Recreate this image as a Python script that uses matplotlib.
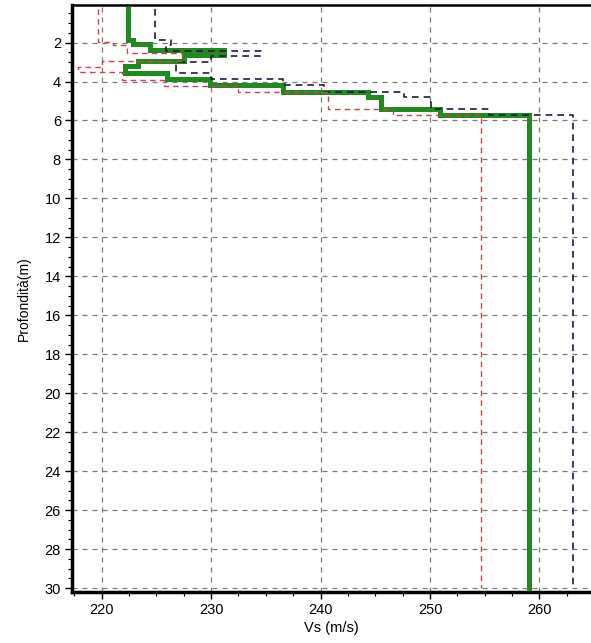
import numpy as np
import matplotlib
matplotlib.use("Agg")
import matplotlib.pyplot as plt
from matplotlib.ticker import MultipleLocator

plt.rcParams['font.family'] = ['Liberation Sans', 'DejaVu Sans']

max_depth = 30.0

# Mean profile (green)
mean_tops = [0.3, 1.88, 2.05, 2.38, 2.65, 2.94, 3.2, 3.55, 3.85, 4.17, 4.53, 4.78, 5.42, 5.72]
mean_vs = [222.4, 222.9, 224.4, 231.2, 227.5, 223.3, 222.1, 226.0, 229.9, 236.6, 244.3, 245.5, 250.9, 259.0]

# Upper profile (black dashed)
upper_tops = [0.3, 1.85, 2.1, 2.42, 2.68, 3.0, 3.55, 3.85, 4.17, 4.53, 4.78, 5.42, 5.72]
upper_vs = [224.9, 226.3, 225.9, 234.6, 230.0, 226.8, 230.0, 236.6, 240.3, 247.6, 250.1, 255.4, 263.1]

# Lower profile (red dashed)
lower_tops = [0.3, 1.96, 2.1, 2.55, 2.95, 3.25, 3.5, 3.9, 4.25, 4.53, 5.42, 5.72]
lower_vs = [219.7, 221.0, 222.3, 227.3, 220.0, 217.8, 221.9, 225.7, 232.5, 240.7, 246.6, 254.7]

x_ticks = [220, 230, 240, 250, 260]
y_ticks = list(range(2, 31, 2))


def profile_xy(tops, vals):
    edges = np.append(np.asarray(tops, float), max_depth)
    ys = np.repeat(edges, 2)[1:-1]
    xs = np.repeat(np.asarray(vals, float), 2)
    return xs, ys


fig = plt.figure(figsize=(5.91, 6.43), dpi=100)
ax = fig.add_axes([0.122, 0.0793, 0.876, 0.913])

ax.grid(True, which='major', color='#7a7a7a', linestyle=(0, (4, 4)), linewidth=0.9)
ax.set_axisbelow(True)

xs, ys = profile_xy(mean_tops, mean_vs)
ax.plot(xs, ys, color='#1f8a1f', linewidth=3.6, solid_joinstyle='miter', zorder=3)
xs, ys = profile_xy(upper_tops, upper_vs)
ax.plot(xs, ys, color='#1c1c3c', linewidth=1.2, linestyle=(0, (4, 3)), zorder=4)
xs, ys = profile_xy(lower_tops, lower_vs)
ax.plot(xs, ys, color='#d0404a', linewidth=1.0, linestyle=(0, (4, 3)), zorder=5)

ax.set_xlim(217.3, 264.6)
ax.set_ylim(30.2, 0.07)
ax.set_xticks(x_ticks)
ax.set_yticks(y_ticks)
ax.xaxis.set_minor_locator(MultipleLocator(2.5))
ax.yaxis.set_minor_locator(MultipleLocator(0.5))
ax.tick_params(which='major', length=5, width=1, labelsize=10.5, colors='black', pad=3)
ax.tick_params(which='minor', length=3, width=0.8)

ax.spines['left'].set_linewidth(2.5)
ax.spines['bottom'].set_linewidth(2.5)
ax.spines['top'].set_linewidth(1.8)
ax.spines['right'].set_visible(False)

ax.set_xlabel('Vs (m/s)', fontsize=10.5, labelpad=3)
ax.set_ylabel('Profondità(m)', fontsize=10, labelpad=10)

fig.savefig('out.png', dpi=100)
